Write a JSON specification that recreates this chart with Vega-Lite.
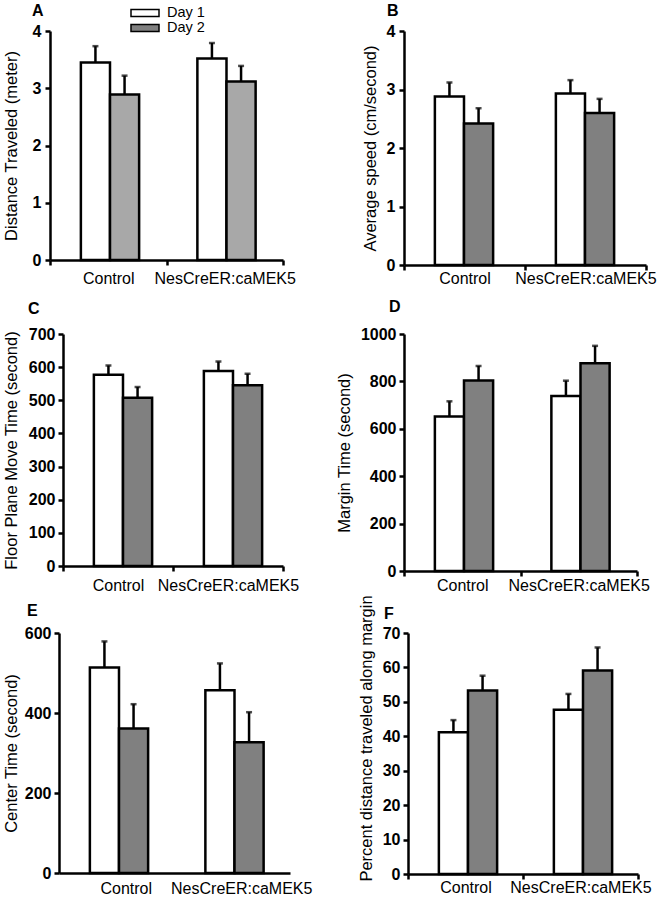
{
  "$schema": "https://vega.github.io/schema/vega-lite/v6.json",
  "padding": {"left": 3, "top": 3, "right": 2, "bottom": 2},
  "background": "white",
  "config": {
    "font": "Liberation Sans",
    "view": {"stroke": null},
    "axis": {"domainColor": "black", "domainWidth": 2.5, "tickColor": "black", "tickWidth": 2.5, "tickSize": 5, "labelColor": "black", "titleColor": "black", "grid": false, "titleFontWeight": "normal", "titleFontSize": 16.5},
    "axisY": {"labelFontWeight": "bold", "labelFontSize": 16, "labelPadding": 3, "format": "d"},
    "axisX": {"title": null, "labelAngle": 0, "tickBand": "extent", "labelFontSize": 16, "labelFontWeight": "normal"},
    "title": {"fontSize": 16, "fontWeight": "bold", "anchor": "start", "color": "black", "frame": "group"}
  },
  "datasets": {
    "stats": [
      {"panel": "A", "group": "Control", "day": "Day 1", "mean": 3.45, "upper": 3.735},
      {"panel": "A", "group": "Control", "day": "Day 2", "mean": 2.89, "upper": 3.22},
      {"panel": "A", "group": "NesCreER:caMEK5", "day": "Day 1", "mean": 3.52, "upper": 3.79},
      {"panel": "A", "group": "NesCreER:caMEK5", "day": "Day 2", "mean": 3.12, "upper": 3.39},
      {"panel": "B", "group": "Control", "day": "Day 1", "mean": 2.88, "upper": 3.12},
      {"panel": "B", "group": "Control", "day": "Day 2", "mean": 2.42, "upper": 2.68},
      {"panel": "B", "group": "NesCreER:caMEK5", "day": "Day 1", "mean": 2.93, "upper": 3.16},
      {"panel": "B", "group": "NesCreER:caMEK5", "day": "Day 2", "mean": 2.6, "upper": 2.84},
      {"panel": "C", "group": "Control", "day": "Day 1", "mean": 577, "upper": 605},
      {"panel": "C", "group": "Control", "day": "Day 2", "mean": 508, "upper": 540},
      {"panel": "C", "group": "NesCreER:caMEK5", "day": "Day 1", "mean": 588, "upper": 617},
      {"panel": "C", "group": "NesCreER:caMEK5", "day": "Day 2", "mean": 545, "upper": 580},
      {"panel": "D", "group": "Control", "day": "Day 1", "mean": 652, "upper": 716},
      {"panel": "D", "group": "Control", "day": "Day 2", "mean": 804, "upper": 865},
      {"panel": "D", "group": "NesCreER:caMEK5", "day": "Day 1", "mean": 738, "upper": 803},
      {"panel": "D", "group": "NesCreER:caMEK5", "day": "Day 2", "mean": 877, "upper": 950},
      {"panel": "E", "group": "Control", "day": "Day 1", "mean": 514, "upper": 579},
      {"panel": "E", "group": "Control", "day": "Day 2", "mean": 361, "upper": 422},
      {"panel": "E", "group": "NesCreER:caMEK5", "day": "Day 1", "mean": 457, "upper": 524},
      {"panel": "E", "group": "NesCreER:caMEK5", "day": "Day 2", "mean": 327, "upper": 402},
      {"panel": "F", "group": "Control", "day": "Day 1", "mean": 41.2, "upper": 44.7},
      {"panel": "F", "group": "Control", "day": "Day 2", "mean": 53.3, "upper": 57.6},
      {"panel": "F", "group": "NesCreER:caMEK5", "day": "Day 1", "mean": 47.7, "upper": 52.3},
      {"panel": "F", "group": "NesCreER:caMEK5", "day": "Day 2", "mean": 59.1, "upper": 65.8}
    ]
  },
  "resolve": {"scale": {"fill": "independent"}, "legend": {"fill": "independent"}},
  "columns": 1,
  "align": "none",
  "spacing": 1,
  "concat": [
    {
      "resolve": {"scale": {"fill": "independent"}, "legend": {"fill": "independent"}},
      "columns": 1,
      "align": "none",
      "spacing": 13,
      "concat": [
        {
          "bounds": "flush",
          "spacing": 121,
          "hconcat": [
            {
              "width": 220, "height": 229,
              "title": {"text": "A", "dx": -31, "offset": 4},
              "data": {"name": "stats"},
              "transform": [{"filter": "datum.panel === 'A'"}],
              "encoding": {
                "x": {"field": "group", "type": "nominal", "sort": ["Control", "NesCreER:caMEK5"], "scale": {"paddingInner": 0, "paddingOuter": 0, "range": [-13, 220]}, "axis": {"labelPadding": 5}},
                "xOffset": {"field": "day", "type": "nominal", "scale": {"paddingInner": 0, "paddingOuter": 1.118, "align": 0.53}},
                "y": {"field": "mean", "type": "quantitative", "scale": {"domain": [0, 4], "nice": false}, "axis": {"values": [0, 1, 2, 3, 4], "offset": 13, "labelPadding": 4, "titlePadding": 12.6}, "title": "Distance Traveled (meter)"}
              },
              "layer": [
                {"mark": {"type": "bar", "stroke": "black", "strokeWidth": 2.5},
                 "encoding": {"fill": {"condition": {"test": "datum.day === 'Day 2'", "value": "#a8a8a8"}, "field": "day", "type": "nominal", "scale": {"domain": ["Day 1", "Day 2"], "range": ["#ffffff", "#808080"]},
                   "legend": {"orient": "none", "legendX": 74, "legendY": -26, "title": null, "symbolType": "M-2,-0.5L2,-0.5L2,0.5L-2,0.5Z", "symbolSize": 196, "symbolStrokeColor": "black", "symbolStrokeWidth": 1.5, "symbolOpacity": 1, "labelFontSize": 14.5, "labelOffset": 14, "rowPadding": 0, "labelColor": "black"}}}},
                {"mark": {"type": "rule", "strokeWidth": 2.5, "color": "black"}, "encoding": {"y2": {"field": "upper"}}},
                {"mark": {"type": "tick", "color": "black", "thickness": 2.5, "size": 6}, "encoding": {"y": {"field": "upper", "type": "quantitative", "title": "Distance Traveled (meter)"}}}
              ]
            },
            {
              "width": 242, "height": 234,
              "title": {"text": "B", "dx": -17, "offset": 4},
              "data": {"name": "stats"},
              "transform": [{"filter": "datum.panel === 'B'"}],
              "encoding": {
                "x": {"field": "group", "type": "nominal", "sort": ["Control", "NesCreER:caMEK5"], "scale": {"paddingInner": 0, "paddingOuter": 0}, "axis": {"labelPadding": 0}},
                "xOffset": {"field": "day", "type": "nominal", "scale": {"paddingInner": 0, "paddingOuter": 1.24, "align": 0.5}},
                "y": {"field": "mean", "type": "quantitative", "scale": {"domain": [0, 4], "nice": false}, "axis": {"values": [0, 1, 2, 3, 4], "labelPadding": 4, "titlePadding": 8}, "title": "Average speed (cm/second)"}
              },
              "layer": [
                {"mark": {"type": "bar", "stroke": "black", "strokeWidth": 2.5},
                 "encoding": {"fill": {"field": "day", "type": "nominal", "scale": {"domain": ["Day 1", "Day 2"], "range": ["#ffffff", "#808080"]}, "legend": null}}},
                {"mark": {"type": "rule", "strokeWidth": 2.5, "color": "black"}, "encoding": {"y2": {"field": "upper"}}},
                {"mark": {"type": "tick", "color": "black", "thickness": 2.5, "size": 6}, "encoding": {"y": {"field": "upper", "type": "quantitative", "title": "Average speed (cm/second)"}}}
              ]
            }
          ]
        },
        {
          "bounds": "flush",
          "spacing": 121,
          "resolve": {"scale": {"fill": "independent"}, "legend": {"fill": "independent"}},
          "hconcat": [
            {
              "width": 220, "height": 232,
              "title": {"text": "C", "dx": -35, "offset": 9},
              "data": {"name": "stats"},
              "transform": [{"filter": "datum.panel === 'C'"}],
              "encoding": {
                "x": {"field": "group", "type": "nominal", "sort": ["Control", "NesCreER:caMEK5"], "scale": {"paddingInner": 0, "paddingOuter": 0}, "axis": {"labelPadding": 6}},
                "xOffset": {"field": "day", "type": "nominal", "scale": {"paddingInner": 0, "paddingOuter": 1.2, "align": 0.5}},
                "y": {"field": "mean", "type": "quantitative", "scale": {"domain": [0, 700], "nice": false}, "axis": {"values": [0, 100, 200, 300, 400, 500, 600, 700], "titlePadding": 8.8}, "title": "Floor Plane Move Time (second)"}
              },
              "layer": [
                {"mark": {"type": "bar", "stroke": "black", "strokeWidth": 2.5},
                 "encoding": {"fill": {"field": "day", "type": "nominal", "scale": {"domain": ["Day 1", "Day 2"], "range": ["#ffffff", "#808080"]}, "legend": null}}},
                {"mark": {"type": "rule", "strokeWidth": 2.5, "color": "black"}, "encoding": {"y2": {"field": "upper"}}},
                {"mark": {"type": "tick", "color": "black", "thickness": 2.5, "size": 6}, "encoding": {"y": {"field": "upper", "type": "quantitative", "title": "Floor Plane Move Time (second)"}}}
              ]
            },
            {
              "width": 233, "height": 237,
              "title": {"text": "D", "dx": -15, "offset": 11},
              "data": {"name": "stats"},
              "transform": [{"filter": "datum.panel === 'D'"}],
              "encoding": {
                "x": {"field": "group", "type": "nominal", "sort": ["Control", "NesCreER:caMEK5"], "scale": {"paddingInner": 0, "paddingOuter": 0}, "axis": {"labelPadding": 1}},
                "xOffset": {"field": "day", "type": "nominal", "scale": {"paddingInner": 0, "paddingOuter": 1.198, "align": 0.484}},
                "y": {"field": "mean", "type": "quantitative", "scale": {"domain": [0, 1000], "nice": false}, "axis": {"values": [0, 200, 400, 600, 800, 1000], "titlePadding": 8}, "title": "Margin Time (second)"}
              },
              "layer": [
                {"mark": {"type": "bar", "stroke": "black", "strokeWidth": 2.5},
                 "encoding": {"fill": {"field": "day", "type": "nominal", "scale": {"domain": ["Day 1", "Day 2"], "range": ["#ffffff", "#808080"]}, "legend": null}}},
                {"mark": {"type": "rule", "strokeWidth": 2.5, "color": "black"}, "encoding": {"y2": {"field": "upper"}}},
                {"mark": {"type": "tick", "color": "black", "thickness": 2.5, "size": 6}, "encoding": {"y": {"field": "upper", "type": "quantitative", "title": "Margin Time (second)"}}}
              ]
            }
          ]
        }
      ]
    },
    {
      "bounds": "flush",
      "spacing": 118,
      "resolve": {"scale": {"fill": "independent"}, "legend": {"fill": "independent"}},
      "hconcat": [
        {
          "width": 227, "height": 240,
          "title": {"text": "E", "dx": -36, "offset": 6},
          "data": {"name": "stats"},
          "transform": [{"filter": "datum.panel === 'E'"}],
          "encoding": {
            "x": {"field": "group", "type": "nominal", "sort": ["Control", "NesCreER:caMEK5"], "scale": {"paddingInner": 0, "paddingOuter": 0, "range": [-4, 227]}, "axis": {"ticks": false, "labelPadding": 7, "labelOffset": 9}},
            "xOffset": {"field": "day", "type": "nominal", "scale": {"paddingInner": 0, "paddingOuter": 0.724, "align": 0.62}},
            "y": {"field": "mean", "type": "quantitative", "scale": {"domain": [0, 600], "nice": false}, "axis": {"values": [0, 200, 400, 600], "offset": 4, "titlePadding": 4.8}, "title": "Center Time (second)"}
          },
          "layer": [
            {"mark": {"type": "bar", "stroke": "black", "strokeWidth": 2.5},
             "encoding": {"fill": {"field": "day", "type": "nominal", "scale": {"domain": ["Day 1", "Day 2"], "range": ["#ffffff", "#808080"]}, "legend": null}}},
            {"mark": {"type": "rule", "strokeWidth": 2.5, "color": "black"}, "encoding": {"y2": {"field": "upper"}}},
            {"mark": {"type": "tick", "color": "black", "thickness": 2.5, "size": 6}, "encoding": {"y": {"field": "upper", "type": "quantitative", "title": "Center Time (second)"}}}
          ]
        },
        {
          "width": 230, "height": 241,
          "title": {"text": "F", "dx": -24, "offset": -27},
          "data": {"name": "stats"},
          "transform": [{"filter": "datum.panel === 'F'"}],
          "encoding": {
            "x": {"field": "group", "type": "nominal", "sort": ["Control", "NesCreER:caMEK5"], "scale": {"paddingInner": 0, "paddingOuter": 0}, "axis": {"labelPadding": 0}},
            "xOffset": {"field": "day", "type": "nominal", "scale": {"paddingInner": 0, "paddingOuter": 0.716, "align": 0.53}},
            "y": {"field": "mean", "type": "quantitative", "scale": {"domain": [0, 70], "nice": false}, "axis": {"values": [0, 10, 20, 30, 40, 50, 60, 70], "titleY": 105, "titlePadding": 8}, "title": "Percent distance traveled along margin"}
          },
          "layer": [
            {"mark": {"type": "bar", "stroke": "black", "strokeWidth": 2.5},
             "encoding": {"fill": {"field": "day", "type": "nominal", "scale": {"domain": ["Day 1", "Day 2"], "range": ["#ffffff", "#808080"]}, "legend": null}}},
            {"mark": {"type": "rule", "strokeWidth": 2.5, "color": "black"}, "encoding": {"y2": {"field": "upper"}}},
            {"mark": {"type": "tick", "color": "black", "thickness": 2.5, "size": 6}, "encoding": {"y": {"field": "upper", "type": "quantitative", "title": "Percent distance traveled along margin"}}}
          ]
        }
      ]
    }
  ]
}
